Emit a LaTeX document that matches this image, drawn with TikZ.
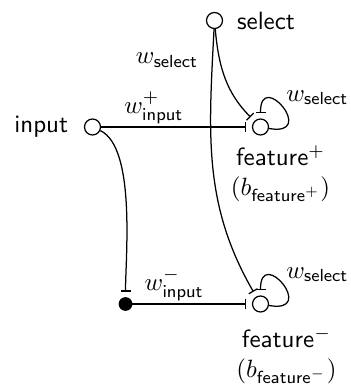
\documentclass[tikz,border=0pt]{standalone}
\usepackage{amsmath}
\usepackage{amssymb}
\usetikzlibrary{positioning, arrows.meta}

\begin{document}
\begin{tikzpicture}[on grid, line width=0.5pt, font=\sffamily,
        cell/.style={circle, draw, minimum size=6.4pt, inner sep=0pt},
        icell/.style={circle, draw, fill=black, minimum size=5pt, inner sep=0pt},
        blocks/.style={-{Bar[width=4pt]}, shorten >=2.2pt},
        wlabel/.style={inner sep=1pt}]
        \useasboundingbox (-37pt,50.8pt) rectangle (103pt,-104.4pt);
        \node[cell, label={[label distance=2.7pt]left:input}]    (in)  at (0,0) {};
        \node[cell, label={[align=center, label distance=0.5pt, xshift=8pt]below:{feature$^+$\\$(b_{\mathsf{feature}^+})$}}]
                                 (fp)  [right=67.2pt of in] {};
        \node[cell, label={[label distance=2pt]right:select}]    (sel) [above left=42.6pt and 18.4pt of fp] {};
        \node[cell, label={[align=center, label distance=2.5pt, xshift=10.4pt]below:{feature$^-$\\$(b_{\mathsf{feature}^-})$}}]
                                 (fm)  [below=70.8pt of fp] {};
        \node[icell]             (ii)  [left=54pt of fm] {};

        \path[blocks]
          (in)  edge node[wlabel, above, pos=0.35] {$w^+_{\mathsf{input}}$} (fp)
                edge[out=-25, in=90, looseness=0.6] (ii)
          (ii)  edge node[wlabel, above, pos=0.35] {$w^-_{\mathsf{input}}$} (fm)
          (sel) edge[out=-85, in=135] (fp)
                edge[out=-93, in=120] node[wlabel, pos=0.1, left=4.5pt] {$w_{\mathsf{select}}$} (fm)
          (fp)  edge[out=-10, in=90, min distance=7mm] node[wlabel, above right] {$w_{\mathsf{select}}$} (fp)
          (fm)  edge[out=-10, in=90, min distance=7mm] node[wlabel, above right] {$w_{\mathsf{select}}$} (fm);
\end{tikzpicture}
\end{document}
